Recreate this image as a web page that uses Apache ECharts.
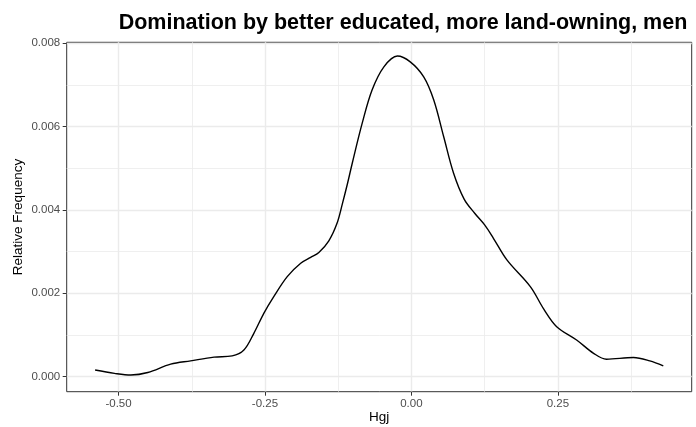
<!DOCTYPE html>
<html>
<head>
<meta charset="utf-8">
<script src="https://cdn.jsdelivr.net/npm/echarts@6/dist/echarts.min.js"></script>
<style>
html,body{margin:0;padding:0;background:#fff;}
#chart{width:696px;height:427px;}
</style>
</head>
<body>
<div id="chart"></div>
<script>
// Density curve
var hgj = [-0.540,-0.507,-0.479,-0.450,-0.411,-0.377,-0.337,-0.306,-0.286,-0.269,-0.252,-0.235,-0.212,-0.189,-0.172,-0.158,-0.141,-0.127,-0.118,-0.109,-0.101,-0.084,-0.067,-0.047,-0.024,-0.002,0.021,0.038,0.055,0.072,0.090,0.108,0.125,0.140,0.163,0.203,0.226,0.248,0.282,0.311,0.333,0.379,0.407,0.430];
var freq = [0.00016,0.00008,0.00004,0.00010,0.00030,0.00038,0.00047,0.00050,0.00064,0.00104,0.00152,0.00192,0.00240,0.00272,0.00286,0.00298,0.00326,0.00368,0.00414,0.00464,0.00512,0.00608,0.00688,0.00743,0.00769,0.00755,0.00719,0.00664,0.00576,0.00488,0.00426,0.00392,0.00364,0.00332,0.00280,0.00216,0.00162,0.00120,0.00088,0.00056,0.00042,0.00046,0.00038,0.00026];
var xTicks = [-0.50,-0.25,0.00,0.25];
var xMinor = [-0.375,-0.125,0.125,0.375];
var yTicks = [0.000,0.002,0.004,0.006,0.008];
var yMinor = [0.001,0.003,0.005,0.007];
var xRange = [-0.5885, 0.4785];
var yRange = [-0.00036, 0.00802];
var titleText = 'Domination by better educated, more land-owning, men';

var pts = hgj.map(function(x,i){return [x,freq[i]];});
var FONT = '"Liberation Sans", Arial, sans-serif';
var gridLineColor = '#EBEBEB';

var chart = echarts.init(document.getElementById('chart'), null, {renderer:'canvas'});
chart.setOption({
  animation:false,
  backgroundColor:'#ffffff',
  title:{
    text:titleText,
    left:398, top:7, textAlign:'center',
    textStyle:{fontFamily:FONT,fontSize:21.5,fontWeight:'bold',color:'#000'}
  },
  grid:{left:66.7,right:4.3,top:42.3,bottom:35.3,show:true,borderColor:'#333333',borderWidth:1,backgroundColor:'transparent',
    containLabel:false, outerBoundsMode:'none'},
  xAxis:[{
    type:'value', min:xRange[0], max:xRange[1],
    name:'Hgj', nameLocation:'middle', nameGap:18.5, nameMoveOverlap:false,
    nameTextStyle:{fontFamily:FONT,fontSize:13.5,color:'#000'},
    axisLine:{show:false,onZero:false},
    axisTick:{show:true,length:4,lineStyle:{color:'#333333',width:1},customValues:xTicks},
    axisLabel:{show:true,margin:6.5,fontFamily:FONT,fontSize:11.5,color:'#4D4D4D',customValues:xTicks,
      formatter:function(v){return v.toFixed(2);}},
    splitLine:{show:true,lineStyle:{color:gridLineColor,width:1.4}}
  },{
    type:'value', min:xRange[0], max:xRange[1], position:'bottom',
    axisLine:{show:false,onZero:false},
    axisTick:{show:false,customValues:xMinor},
    axisLabel:{show:false,customValues:xMinor},
    splitLine:{show:true,lineStyle:{color:gridLineColor,width:0.8}}
  }],
  yAxis:[{
    type:'value', min:yRange[0], max:yRange[1],
    name:'Relative Frequency', nameLocation:'middle', nameGap:41, nameRotate:90, nameMoveOverlap:false,
    nameTextStyle:{fontFamily:FONT,fontSize:13.5,color:'#000'},
    axisLine:{show:false,onZero:false},
    axisTick:{show:true,length:4,lineStyle:{color:'#333333',width:1},customValues:yTicks},
    axisLabel:{show:true,margin:6.5,fontFamily:FONT,fontSize:11.5,color:'#4D4D4D',customValues:yTicks,
      formatter:function(v){return v.toFixed(3);}},
    splitLine:{show:true,lineStyle:{color:gridLineColor,width:1.4}}
  },{
    type:'value', min:yRange[0], max:yRange[1], position:'left',
    axisLine:{show:false,onZero:false},
    axisTick:{show:false,customValues:yMinor},
    axisLabel:{show:false,customValues:yMinor},
    splitLine:{show:true,lineStyle:{color:gridLineColor,width:0.8}}
  }],
  series:[{
    type:'line', xAxisIndex:0, yAxisIndex:0,
    data:pts, smooth:0.35, showSymbol:false, symbol:'none',
    lineStyle:{color:'#000000',width:1.4}, z:5
  }]
});
</script>
</body>
</html>
